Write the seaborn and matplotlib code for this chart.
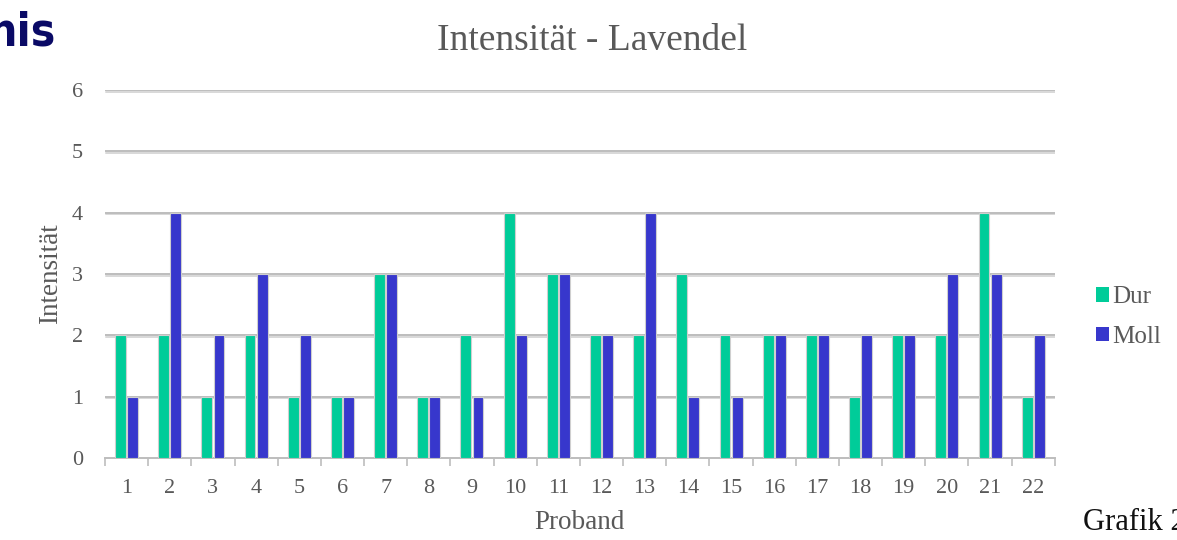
import matplotlib
matplotlib.use("Agg")
import matplotlib.pyplot as plt
import matplotlib.patheffects as pe
import seaborn as sns
import pandas as pd
import numpy as np

# Intensity ratings per subject for the two conditions
probanden = [str(i) for i in range(1, 23)]
dur = [2, 2, 1, 2, 1, 1, 3, 1, 2, 4, 3, 2, 2, 3, 2, 2, 2, 1, 2, 2, 4, 1]
moll = [1, 4, 2, 3, 2, 1, 3, 1, 1, 2, 3, 2, 4, 1, 1, 2, 2, 2, 2, 3, 3, 2]
y_ticks = [0, 1, 2, 3, 4, 5, 6]

df = pd.DataFrame({
    "Proband": probanden * 2,
    "Intensität": dur + moll,
    "Tonart": ["Dur"] * len(dur) + ["Moll"] * len(moll),
})

sns.set_theme(style="white")
plt.rcParams["font.family"] = ["Liberation Serif", "DejaVu Serif"]

fig = plt.figure(figsize=(11.77, 5.40), dpi=100)
ax = fig.add_axes([0.0892, 0.152, 0.807, 0.681])

palette = {"Dur": "#00CC99", "Moll": "#3737CC"}
sns.barplot(data=df, x="Proband", y="Intensität", hue="Tonart",
            order=probanden, hue_order=["Dur", "Moll"], palette=palette,
            saturation=1, width=0.56, gap=0.1, edgecolor="#cfcfcf",
            linewidth=0.8, ax=ax, zorder=3)

# Horizontal gridlines with a soft shadow
for v in y_ticks[1:]:
    ax.axhline(v, color="#bdbdbd", lw=1.4, zorder=1,
               path_effects=[pe.SimpleLineShadow(offset=(0.8, -1.2),
                                                 shadow_color="#d8d8d8", alpha=1),
                             pe.Normal()])

ax.set_ylim(0, 6)
ax.set_xlim(-0.5, len(probanden) - 0.5)
ax.set_yticks(y_ticks)
ax.set_yticklabels([str(t) for t in y_ticks])

for s in ["top", "right", "left"]:
    ax.spines[s].set_visible(False)
ax.spines["bottom"].set_color("#bdbdbd")
ax.spines["bottom"].set_linewidth(1.4)

# Category ticks sit between the groups
ax.set_xticks(np.arange(-0.5, len(probanden), 1.0), minor=True)
ax.tick_params(axis="x", which="minor", bottom=True, length=6, width=1.2,
               color="#bdbdbd", direction="out")
ax.tick_params(axis="x", which="major", bottom=False, pad=9,
               labelsize=16, labelcolor="#595959")
ax.tick_params(axis="y", left=False, pad=10, labelsize=16, labelcolor="#595959")

ax.set_xlabel("Proband", fontsize=19.5, color="#595959", labelpad=9)
ax.set_ylabel("Intensität", fontsize=19.5, color="#595959", labelpad=6)
ax.set_title("Intensität - Lavendel", fontsize=27, color="#595959", pad=29,
             x=0.513)

leg = ax.legend(loc="center left", bbox_to_anchor=(1.02, 0.383), frameon=False,
                fontsize=18, handlelength=0.5, handleheight=0.5,
                handletextpad=0.15, labelspacing=0.7, labelcolor="#595959")
for h in leg.legend_handles:
    h.set_edgecolor("none")

# Slide heading fragment and figure caption
fig.text(56 / 1177, 1 - 45 / 540, "nis", ha="right", va="baseline",
         fontsize=33, fontweight="bold", fontstretch="condensed",
         color="#0A0A66", family="DejaVu Sans")
fig.text(1083 / 1177, 1 - 530 / 540, "Grafik 2", ha="left", va="baseline",
         fontsize=22, color="#111111")

fig.savefig("out.png", dpi=100)
